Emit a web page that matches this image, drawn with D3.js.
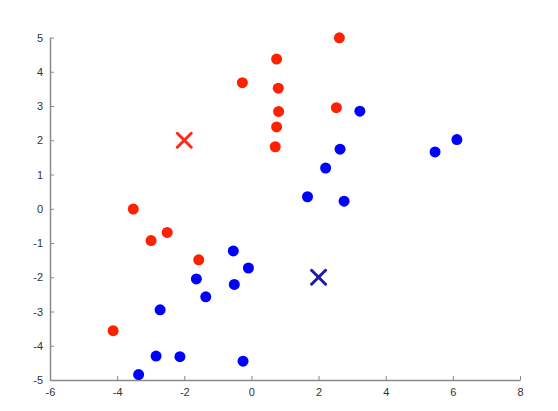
<!DOCTYPE html>
<html><head><meta charset="utf-8">
<script src="https://cdn.jsdelivr.net/npm/d3@7"></script>
<style>body{margin:0;background:#fff;} text{font-family:"Liberation Sans",Arial,sans-serif;}</style>
</head><body>
<svg id="c" width="558" height="411"></svg>
<script>
const redX = [-0.27, 2.62, 0.75, 0.80, 0.81, 0.75, 0.71, 2.53, -3.52, -2.99, -2.51, -1.57, -4.12];
const redY = [3.68, 4.99, 4.37, 3.52, 2.84, 2.39, 1.81, 2.95, -0.01, -0.93, -0.69, -1.49, -3.56];
const blueX = [3.23, 6.12, 5.47, 2.64, 2.21, 1.67, 2.76, -0.54, -0.09, -1.64, -0.51, -1.36, -2.72, -2.84, -2.13, -0.25, -3.36];
const blueY = [2.85, 2.02, 1.66, 1.74, 1.19, 0.35, 0.22, -1.23, -1.73, -2.05, -2.21, -2.57, -2.95, -4.30, -4.32, -4.45, -4.84];
const centroidX = [-2, 2];
const centroidY = [2, -2];
const xTicks = [-6, -4, -2, 0, 2, 4, 6, 8];
const yTicks = [-5, -4, -3, -2, -1, 0, 1, 2, 3, 4, 5];

const svg = d3.select("#c");
const x = d3.scaleLinear().domain([-6, 8]).range([50, 520]);
const y = d3.scaleLinear().domain([-5, 5]).range([380, 37.5]);

const xa = svg.append("g").attr("transform", "translate(0,380)")
  .call(d3.axisBottom(x).tickValues(xTicks).tickSizeInner(-4).tickSizeOuter(0).tickPadding(8).tickFormat(d3.format("d")));
const ya = svg.append("g").attr("transform", "translate(50,0)")
  .call(d3.axisLeft(y).tickValues(yTicks).tickSizeInner(-4).tickSizeOuter(0).tickPadding(7).tickFormat(d3.format("d")));
[xa, ya].forEach(a => {
  a.select(".domain").attr("stroke", "#8a8a8a").attr("stroke-width", 1.5);
  a.selectAll(".tick line").attr("stroke", "#8a8a8a");
  a.selectAll(".tick text").attr("fill", "#333").attr("font-size", 11).text(d => d < 0 ? "-" + Math.abs(d) : d);
});

const red = redX.map((v, i) => [v, redY[i]]);
const blue = blueX.map((v, i) => [v, blueY[i]]);
svg.append("g").selectAll("circle").data(red).join("circle")
  .attr("cx", d => x(d[0])).attr("cy", d => y(d[1])).attr("r", 5.5).attr("fill", "#ff2000");
svg.append("g").selectAll("circle").data(blue).join("circle")
  .attr("cx", d => x(d[0])).attr("cy", d => y(d[1])).attr("r", 5.5).attr("fill", "#0000ff");

const cols = ["#ff2a1a", "#1c1ca8"];
const s = 7;
centroidX.forEach((cx, i) => {
  const g = svg.append("g").attr("transform", `translate(${x(cx)},${y(centroidY[i])})`)
    .attr("stroke", cols[i]).attr("stroke-width", 3).attr("stroke-linecap", "round");
  g.append("line").attr("x1", -s).attr("y1", -s).attr("x2", s).attr("y2", s);
  g.append("line").attr("x1", -s).attr("y1", s).attr("x2", s).attr("y2", -s);
});
</script>
</body></html>
